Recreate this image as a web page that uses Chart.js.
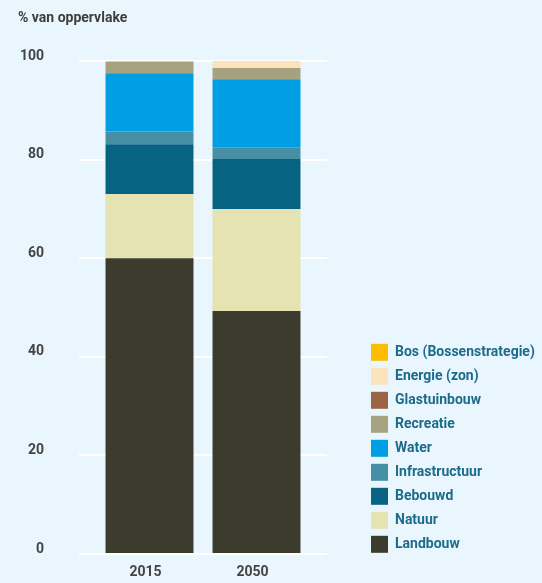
<!DOCTYPE html>
<html lang="nl">
  <head>
    <meta charset="UTF-8" />
    <meta name="viewport" content="width=device-width, initial-scale=1.0" />
    <title>Ruimtegebruik</title>
    <script src="https://cdn.jsdelivr.net/npm/chart.js@4"></script>
  </head>
  <body style="margin:0; overflow:hidden; background-color:#eaf6fe;">
    <canvas id="myChart" width="542" height="583" style="display:block;"></canvas>
    <script>
      // jaren op de x-as
      const years = ['2015', '2050'];

      // % van oppervlakte per functie (2015, 2050)
      const landbouw = [60.0, 49.3];
      const natuur = [13.0, 20.7];
      const bebouwd = [10.1, 10.1];
      const infrastructuur = [2.6, 2.4];
      const water = [11.8, 13.8];
      const recreatie = [2.4, 2.3];
      const glastuinbouw = [0, 0];
      const energie = [0, 1.4];
      const bos = [0, 0];

      const yTicks = [0, 20, 40, 60, 80, 100];

      const textFont = { family: 'Roboto', size: 14, weight: 'bold' };

      const datasets = [
        { label: 'Landbouw', data: landbouw, backgroundColor: '#3b3c2d' },
        { label: 'Natuur', data: natuur, backgroundColor: '#e5e3b1' },
        { label: 'Bebouwd', data: bebouwd, backgroundColor: '#086383' },
        { label: 'Infrastructuur', data: infrastructuur, backgroundColor: '#478fa4' },
        { label: 'Water', data: water, backgroundColor: '#009ee2' },
        { label: 'Recreatie', data: recreatie, backgroundColor: '#a6a27f' },
        { label: 'Glastuinbouw', data: glastuinbouw, backgroundColor: '#9b6545' },
        { label: 'Energie (zon)', data: energie, backgroundColor: '#fde3bb' },
        { label: 'Bos (Bossenstrategie)', data: bos, backgroundColor: '#fcbc00' }
      ];
      datasets.forEach(d => {
        d.borderWidth = 0;
        d.categoryPercentage = 1;
        d.barPercentage = 0.822;
      });

      const ctx = document.getElementById('myChart').getContext('2d');
      const myChart = new Chart(ctx, {
        type: 'bar',
        data: { labels: years, datasets: datasets },
        options: {
          responsive: false,
          animation: false,
          layout: { padding: { left: 18, right: 0, top: 0, bottom: 2 } },
          plugins: {
            title: {
              display: true,
              text: '% van oppervlake',
              align: 'start',
              color: '#3d3e3a',
              font: textFont,
              padding: { top: 10, bottom: 34.2 }
            },
            legend: {
              position: 'right',
              align: 'start',
              reverse: true,
              maxWidth: 178,
              title: { display: true, text: ' ', font: { size: 14 }, padding: { top: 320, bottom: 0 } },
              labels: {
                boxWidth: 17,
                boxHeight: 17,
                padding: 7,
                color: '#1d6b8b',
                font: textFont
              }
            },
            tooltip: { enabled: false }
          },
          scales: {
            x: {
              stacked: true,
              grid: { display: false, drawTicks: false },
              border: { display: false },
              ticks: { color: '#444', font: textFont, padding: 10, labelOffset: -4 },
              afterFit: s => { s.height = 27; }
            },
            y: {
              stacked: true,
              min: 0,
              max: 100,
              border: { display: false },
              grid: { color: '#ffffff', lineWidth: 2, tickLength: 17, tickColor: '#ffffff' },
              ticks: { stepSize: 20, color: '#444', font: textFont, padding: 35, labelOffset: -5 },
              afterBuildTicks: s => { s.ticks = yTicks.map(v => ({ value: v })); },
              // the big tick padding should not push the plot area in
              afterFit: s => { s.width = 78; s.paddingTop = 0; s.paddingBottom = 0; }
            },
            // only used for the short gridline stubs right of the bars
            y2: {
              display: true,
              position: 'right',
              min: 0,
              max: 100,
              border: { display: false },
              grid: { drawOnChartArea: false, lineWidth: 2, tickLength: 17, tickColor: '#ffffff' },
              ticks: { display: false, stepSize: 20 },
              afterFit: s => { s.width = 54; }
            }
          }
        }
      });
    </script>
  </body>
</html>
